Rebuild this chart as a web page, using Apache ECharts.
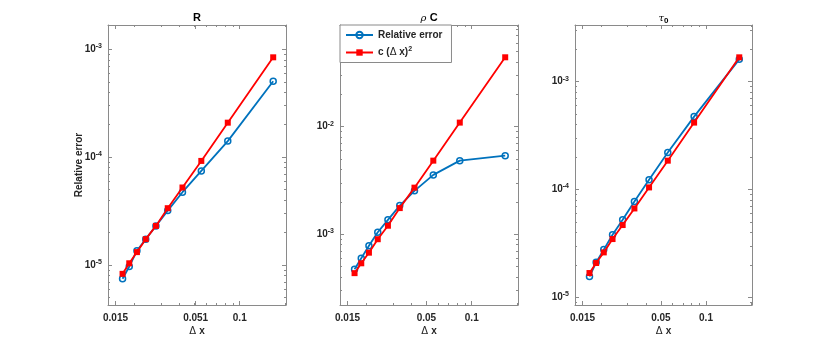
<!DOCTYPE html>
<html>
<head>
<meta charset="utf-8">
<script src="https://cdn.jsdelivr.net/npm/echarts@6/dist/echarts.min.js"></script>
<style>
  html, body { margin: 0; padding: 0; background: #fff; }
  #chart { width: 830px; height: 344px; }
</style>
</head>
<body>
<div id="chart"></div>
<script>
// grid spacing (x values, shared by the three panels)
const dx = [0.0167, 0.0185, 0.0208, 0.0238, 0.0278, 0.0333, 0.0417, 0.0556, 0.0833, 0.1667];

// panel "R"
const rErr = [7.47e-6, 9.7e-6, 1.36e-5, 1.74e-5, 2.31e-5, 3.2e-5, 4.74e-5, 7.46e-5, 1.41e-4, 5.06e-4];
const rFit = [8.3e-6, 1.04e-5, 1.32e-5, 1.74e-5, 2.31e-5, 3.37e-5, 5.24e-5, 9.24e-5, 2.09e-4, 8.43e-4];
// panel "rho C"
const rhoErr = [4.73e-4, 5.98e-4, 7.83e-4, 1.044e-3, 1.36e-3, 1.845e-3, 2.53e-3, 3.56e-3, 4.83e-3, 5.37e-3];
const rhoFit = [4.35e-4, 5.37e-4, 6.74e-4, 8.99e-4, 1.2e-3, 1.75e-3, 2.71e-3, 4.83e-3, 1.09e-2, 4.41e-2];
// panel "tau_0"
const tauErr = [1.56e-5, 2.11e-5, 2.77e-5, 3.81e-5, 5.24e-5, 7.75e-5, 1.23e-4, 2.2e-4, 4.74e-4, 1.61e-3];
const tauFit = [1.68e-5, 2.08e-5, 2.61e-5, 3.47e-5, 4.68e-5, 6.67e-5, 1.045e-4, 1.85e-4, 4.17e-4, 1.68e-3];

// axis limits and ticks
const xLimits = [0.01337, 0.2027];
const xLabelsR = [0.015, 0.051, 0.1];
const xLabels = [0.015, 0.05, 0.1];
const xMinorTicks = [0.02, 0.03, 0.04, 0.05, 0.06, 0.07, 0.08, 0.09, 0.2];
const yLimitsR = [4.27e-6, 1.68e-3];
const yLimitsRho = [2.2e-4, 0.088];
const yLimitsTau = [8.49e-6, 3.35e-3];
const yLabelsR = [1e-5, 1e-4, 1e-3];
const yLabelsRho = [1e-3, 1e-2];
const yLabelsTau = [1e-5, 1e-4, 1e-3];

const seriesNames = ['Relative error', 'c (Δ x)^2'];

const FONT = 'Liberation Sans';
const AXIS_COLOR = '#8a8a8a';
const TEXT_COLOR = '#262626';
const BLUE = '#0072BD';
const RED = '#FF0000';

const panels = [
  { err: rErr, fit: rFit, xl: xLabelsR, yLim: yLimitsR, yl: yLabelsR, showName: true },
  { err: rhoErr, fit: rhoFit, xl: xLabels, yLim: yLimitsRho, yl: yLabelsRho },
  { err: tauErr, fit: tauFit, xl: xLabels, yLim: yLimitsTau, yl: yLabelsTau }
];
const boxes = [
  { left: 108, width: 178 },
  { left: 340, width: 178 },
  { left: 575, width: 177 }
];

const rich = {
  b: { fontFamily: FONT, fontSize: 10, fontWeight: 'bold', color: TEXT_COLOR, lineHeight: 13 },
  g: { fontFamily: 'DejaVu Sans', fontSize: 10, fontWeight: 'normal', color: TEXT_COLOR, lineHeight: 13 },
  s: { fontFamily: FONT, fontSize: 7, fontWeight: 'bold', color: TEXT_COLOR, lineHeight: 6, verticalAlign: 'top' }
};

function minorDecades(lim) {
  const out = [];
  for (let k = Math.floor(Math.log10(lim[0])); k <= Math.ceil(Math.log10(lim[1])); k++) {
    for (let m = 2; m <= 9; m++) {
      const v = m * Math.pow(10, k);
      if (v > lim[0] && v < lim[1]) out.push(v);
    }
  }
  return out;
}

function xFmt(v) { return '{b|' + parseFloat((+v).toPrecision(3)) + '}'; }
function yFmt(v) { return '{b|10}{s|' + Math.round(Math.log10(v)) + '}'; }

const xAxis = [], yAxis = [], grid = [], series = [];
panels.forEach((p, i) => {
  grid.push({ left: boxes[i].left, width: boxes[i].width, top: 25, height: 280, outerBoundsMode: 'none' });
  const xb = { type: 'log', gridIndex: i, min: xLimits[0], max: xLimits[1], splitLine: { show: false } };
  const tickLine = { color: AXIS_COLOR, width: 1 };
  xAxis.push(Object.assign({}, xb, {
    position: 'bottom',
    axisLine: { show: true, onZero: false, lineStyle: tickLine },
    axisTick: { show: true, inside: true, length: 4, customValues: p.xl, lineStyle: tickLine },
    axisLabel: { show: true, customValues: p.xl, formatter: xFmt, rich: rich, margin: 7 },
    name: '{g|Δ} {b|x}', nameLocation: 'middle', nameGap: 20, nameMoveOverlap: false,
    nameTextStyle: { rich: rich }
  }));
  xAxis.push(Object.assign({}, xb, {
    position: 'bottom', axisLine: { show: false },
    axisTick: { show: true, inside: true, length: 2, customValues: xMinorTicks, lineStyle: tickLine },
    axisLabel: { show: false }
  }));
  xAxis.push(Object.assign({}, xb, {
    position: 'top',
    axisLine: { show: true, onZero: false, lineStyle: tickLine },
    axisTick: { show: true, inside: true, length: 4, customValues: p.xl, lineStyle: tickLine },
    axisLabel: { show: false }
  }));
  xAxis.push(Object.assign({}, xb, {
    position: 'top', axisLine: { show: false },
    axisTick: { show: true, inside: true, length: 2, customValues: xMinorTicks, lineStyle: tickLine },
    axisLabel: { show: false }
  }));

  const yb = { type: 'log', gridIndex: i, min: p.yLim[0], max: p.yLim[1], splitLine: { show: false } };
  const yMinor = minorDecades(p.yLim);
  yAxis.push(Object.assign({}, yb, {
    position: 'left',
    axisLine: { show: true, onZero: false, lineStyle: tickLine },
    axisTick: { show: true, inside: true, length: 4, customValues: p.yl, lineStyle: tickLine },
    axisLabel: { show: true, customValues: p.yl, formatter: yFmt, rich: rich, margin: 6 },
    name: p.showName ? '{b|Relative error}' : '', nameLocation: 'middle', nameGap: 22,
    nameMoveOverlap: false, nameTextStyle: { rich: rich }
  }));
  yAxis.push(Object.assign({}, yb, {
    position: 'left', axisLine: { show: false },
    axisTick: { show: true, inside: true, length: 2, customValues: yMinor, lineStyle: tickLine },
    axisLabel: { show: false }
  }));
  yAxis.push(Object.assign({}, yb, {
    position: 'right',
    axisLine: { show: true, onZero: false, lineStyle: tickLine },
    axisTick: { show: true, inside: true, length: 4, customValues: p.yl, lineStyle: tickLine },
    axisLabel: { show: false }
  }));
  yAxis.push(Object.assign({}, yb, {
    position: 'right', axisLine: { show: false },
    axisTick: { show: true, inside: true, length: 2, customValues: yMinor, lineStyle: tickLine },
    axisLabel: { show: false }
  }));

  series.push({
    type: 'line', name: seriesNames[0], xAxisIndex: 4 * i, yAxisIndex: 4 * i,
    data: dx.map((x, j) => [x, p.err[j]]),
    symbol: 'circle', symbolSize: 6,
    lineStyle: { color: BLUE, width: 1.8 },
    itemStyle: { color: 'rgba(255,255,255,0)', borderColor: BLUE, borderWidth: 1.5 },
    emphasis: { disabled: true }, z: 3
  });
  series.push({
    type: 'line', name: seriesNames[1], xAxisIndex: 4 * i, yAxisIndex: 4 * i,
    data: dx.map((x, j) => [x, p.fit[j]]),
    symbol: 'rect', symbolSize: 6,
    lineStyle: { color: RED, width: 1.8 },
    itemStyle: { color: RED },
    emphasis: { disabled: true }, z: 4
  });
});

const titleRich = {
  b: { fontFamily: FONT, fontSize: 11, fontWeight: 'bold', color: TEXT_COLOR, lineHeight: 14 },
  g: { fontFamily: 'DejaVu Serif', fontSize: 10, fontStyle: 'italic', color: TEXT_COLOR, lineHeight: 14 },
  sub: { fontFamily: FONT, fontSize: 8, fontWeight: 'bold', color: TEXT_COLOR, lineHeight: 8, verticalAlign: 'bottom' }
};
const titles = ['{b|R}', '{g|ρ} {b|C}', '{g|τ}{sub|0}'];

const option = {
  backgroundColor: '#fff',
  animation: false,
  grid: grid,
  xAxis: xAxis,
  yAxis: yAxis,
  legend: {
    data: seriesNames,
    orient: 'vertical', left: 340, top: 25,
    itemWidth: 27, itemHeight: 8, itemGap: 6,
    padding: [5, 9, 5, 5],
    borderColor: AXIS_COLOR, borderWidth: 1, backgroundColor: '#fff',
    formatter: function (name) {
      return name === seriesNames[0] ? '{b|Relative error}' : '{b|c (}{g|Δ}{b| x)}{s|2}';
    },
    textStyle: { rich: rich },
    z: 10
  },
  graphic: titles.map((t, i) => ({
    type: 'text',
    x: boxes[i].left + boxes[i].width / 2, y: 18,
    style: { text: t, rich: titleRich, align: 'center', verticalAlign: 'middle' }
  })),
  series: series
};

const chart = echarts.init(document.getElementById('chart'));
chart.setOption(option);
</script>
</body>
</html>
